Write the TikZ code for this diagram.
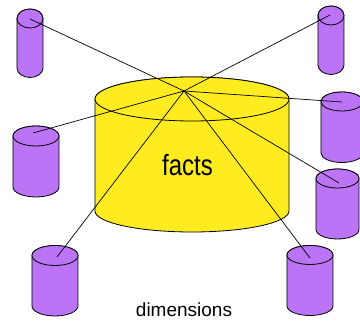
\documentclass[tikz,border=0pt]{standalone}
\usepackage{fontspec}
\setmainfont{Liberation Sans}
\definecolor{factyellow}{RGB}{255,236,32}
\definecolor{dimpurple}{RGB}{187,116,245}
\tikzset{
  cylbody/.style={fill=dimpurple,draw=black,line width=0.8pt},
  factbody/.style={fill=factyellow,draw=black,line width=0.8pt},
  link/.style={draw=black,line width=0.7pt},
}
% \dimcyl{cx}{cy}{rx}{ry}{bottom y}  (y measured downward, in pt)
\newcommand{\dimcyl}[5]{%
  \draw[cylbody] (#1-#3,-#2) -- (#1-#3,-#5)
     arc[start angle=180,end angle=360,x radius=#3,y radius=#4]
     -- (#1+#3,-#2)
     arc[start angle=0,end angle=180,x radius=#3,y radius=#4] -- cycle;
  \draw[cylbody] (#1,-#2) ellipse[x radius=#3,y radius=#4];
}
\begin{document}
\begin{tikzpicture}[x=1pt,y=1pt]
\useasboundingbox (0,0) rectangle (360,-323);
\clip (0,0) rectangle (360,-323);
% fact cylinder
\draw[factbody] (95,-99) -- (95,-211)
   arc[start angle=180,end angle=360,x radius=97,y radius=21]
   -- (289,-99)
   arc[start angle=0,end angle=180,x radius=97,y radius=22] -- cycle;
\draw[factbody] (192,-99) ellipse[x radius=97,y radius=22];
\node[font=\fontsize{24}{24}\selectfont,anchor=base] (facts) at (187.5,-176) {\scalebox{1}[1.22]{facts}};
% dimension cylinders
\dimcyl{30}{18.5}{13}{9.5}{68}
\dimcyl{331}{15.5}{13}{9.5}{65}
\dimcyl{36}{136}{23}{10}{187}
\dimcyl{342}{101.5}{21}{9.5}{153}
\dimcyl{337.5}{178.5}{21.5}{9.5}{229.5}
\dimcyl{55}{255.5}{23}{10}{306}
\dimcyl{310}{255}{23}{9.5}{306}
% hub and ends
\coordinate (hub) at (184,-91);
\coordinate (d1) at (30,-19);
\coordinate (d2) at (330,-15);
\coordinate (d3) at (33,-133);
\coordinate (d4) at (342,-102);
\coordinate (d5) at (339,-183);
\coordinate (d6) at (57,-257);
\coordinate (d7) at (310,-258);
\foreach \d in {d1,d2,d3,d4,d5,d6,d7} \draw[link] (hub) -- (\d);
\node[font=\fontsize{19}{19}\selectfont,anchor=base] (dims) at (184,-317) {dimensions};
\end{tikzpicture}
\end{document}
